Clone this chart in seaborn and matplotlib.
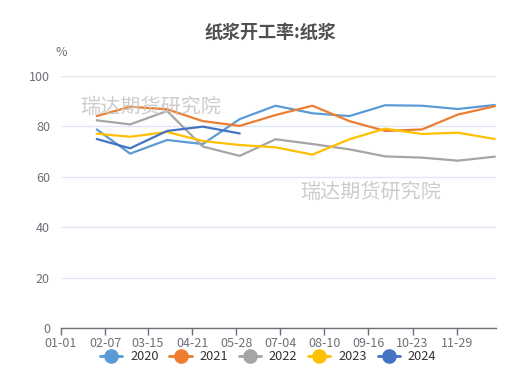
import matplotlib
matplotlib.use("Agg")
import matplotlib.pyplot as plt
import matplotlib.dates as mdates
from matplotlib.lines import Line2D
import seaborn as sns
import pandas as pd

# ---- data ----
months = ["01-31", "02-28", "03-31", "04-30", "05-31", "06-30",
          "07-31", "08-31", "09-30", "10-31", "11-30", "12-31"]
y2020 = [78.8, 69.2, 74.6, 73.0, 82.9, 88.2, 85.2, 84.1, 88.4, 88.2, 86.9, 88.5]
y2021 = [84.1, 87.8, 86.8, 82.1, 80.2, 84.5, 88.2, 82.1, 78.2, 78.8, 84.7, 88.0]
y2022 = [82.4, 80.8, 86.1, 72.0, 68.3, 74.9, 73.0, 70.9, 68.1, 67.6, 66.4, 68.0]
y2023 = [77.1, 75.9, 77.8, 74.2, 72.6, 71.7, 68.8, 74.9, 79.1, 77.0, 77.5, 75.0]
y2024 = [75.0, 71.3, 78.2, 79.9, 77.2]
series = {"2020": y2020, "2021": y2021, "2022": y2022, "2023": y2023, "2024": y2024}
colors = {"2020": "#5B9BD5", "2021": "#ED7D31", "2022": "#A5A5A5",
          "2023": "#FFC000", "2024": "#4472C4"}
tick_labels = ["01-01", "02-07", "03-15", "04-21", "05-28",
               "07-04", "08-10", "09-16", "10-23", "11-29"]
title = "纸浆开工率:纸浆"
unit = "%"
watermark = "瑞达期货研究院"

rows = []
for yr, vals in series.items():
    for m, v in zip(months, vals):
        rows.append({"date": pd.Timestamp("2021-" + m), "value": v, "year": yr})
df = pd.DataFrame(rows)

sns.set_theme(style="white")
plt.rcParams["font.family"] = ["Noto Sans CJK SC", "DejaVu Sans"]

fig = plt.figure(figsize=(5.2, 3.7), dpi=100)
ax = fig.add_axes([61 / 520, 1 - 328 / 370, 435 / 520, (328 - 76) / 370])

sns.lineplot(data=df, x="date", y="value", hue="year", palette=colors,
             linewidth=1.6, ax=ax, legend=False, sort=True)

start = pd.Timestamp("2021-01-01")
ax.set_xlim(mdates.date2num(start), mdates.date2num(start) + 365)
ax.set_ylim(0, 100)
ticks = [pd.Timestamp("2021-" + t) for t in tick_labels]
ax.set_xticks(ticks)
ax.set_xticklabels(tick_labels)
ax.set_yticks([0, 20, 40, 60, 80, 100])
ax.set_xlabel("")
ax.set_ylabel("")

ax.grid(axis="y", color="#E0E6F1", linewidth=1)
ax.grid(axis="x", visible=False)
for s in ["top", "right", "left"]:
    ax.spines[s].set_visible(False)
ax.spines["bottom"].set_color("#6E7079")
ax.spines["bottom"].set_linewidth(1)
ax.tick_params(axis="x", direction="out", length=5, width=1, color="#6E7079",
               labelcolor="#6E7079", labelsize=9, pad=1.5, bottom=True)
ax.tick_params(axis="y", length=0, labelcolor="#6E7079", labelsize=9, pad=8)

fig.text(270 / 520, 1 - 32 / 370, title, ha="center", va="center",
         fontsize=13, fontweight="bold", color="#505050")
fig.text(61 / 520, 1 - 53 / 370, unit, ha="center", va="center",
         fontsize=9, color="#6E7079")
fig.text(80 / 520, 1 - 107 / 370, watermark, ha="left", va="center",
         fontsize=14.5, color="#C4C4C4", alpha=0.85)
fig.text(300 / 520, 1 - 192 / 370, watermark, ha="left", va="center",
         fontsize=14.5, color="#C4C4C4", alpha=0.85)

handles = [Line2D([0], [0], color=colors[k], lw=2, marker="o", markersize=9.5,
                  markerfacecolor=colors[k], markeredgecolor=colors[k]) for k in series]
leg = fig.legend(handles, list(series.keys()), loc="center", ncol=5,
                 bbox_to_anchor=(268 / 520, 1 - 357 / 370), frameon=False,
                 fontsize=9.2, handlelength=1.75, handletextpad=0.6,
                 columnspacing=0.85, borderpad=0, borderaxespad=0)
for t in leg.get_texts():
    t.set_color("#333333")

fig.savefig("out.png", dpi=100)
